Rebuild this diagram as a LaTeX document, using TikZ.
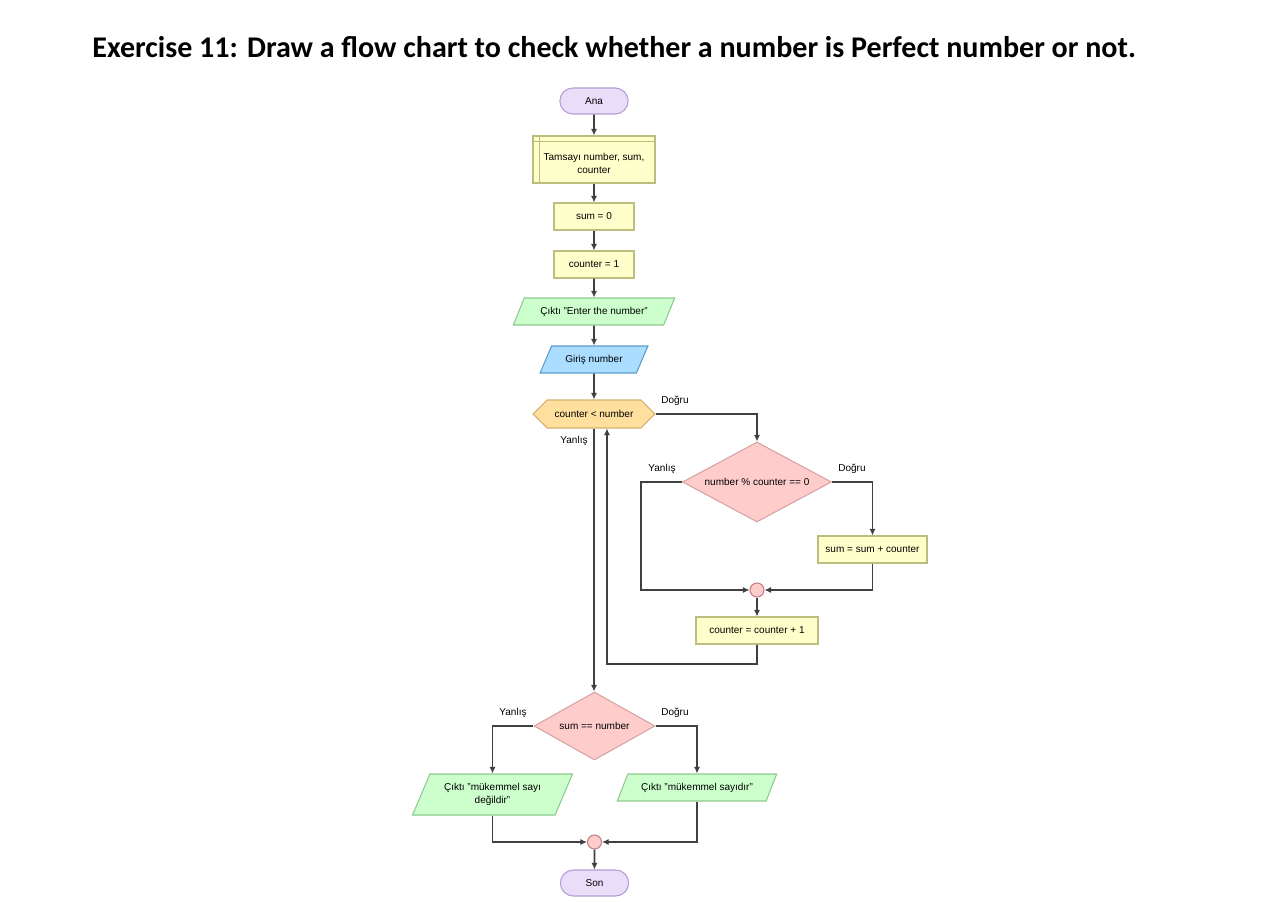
\documentclass[tikz,border=0pt]{standalone}
\usepackage{fontspec}
\setmainfont{Liberation Sans}
\newfontfamily\titlefont{Carlito}
\usepackage{tikz}
\usetikzlibrary{calc}
\usetikzlibrary{arrows.meta}
\usetikzlibrary{shapes}
\usetikzlibrary{shapes.geometric}
\usetikzlibrary{shapes.symbols}
\usetikzlibrary{shapes.misc}
\definecolor{termfill}{HTML}{EADDF9}
\definecolor{termline}{HTML}{B39BD4}
\definecolor{procfill}{HTML}{FFFFCC}
\definecolor{procline}{HTML}{BDBD7E}
\definecolor{outfill}{HTML}{CCFFCC}
\definecolor{outline}{HTML}{8FC98F}
\definecolor{infill}{HTML}{AADDFF}
\definecolor{inline}{HTML}{5C9CCB}
\definecolor{hexfill}{HTML}{FFDF9E}
\definecolor{hexline}{HTML}{D6AE6C}
\definecolor{decfill}{HTML}{FFCCCC}
\definecolor{decline}{HTML}{D6A3A3}
\definecolor{joinline}{HTML}{C07C7C}
\definecolor{flowline}{HTML}{404040}
\tikzset{>={Latex[length=3.8pt,width=3.6pt]}}
\tikzstyle{every node} = [font=\fontsize{5.7}{7.3}\selectfont, text=black]
\tikzstyle{term} = [rounded rectangle, draw=termline, fill=termfill, line width=0.6pt, minimum width=1.6cm, minimum height=0.52cm]
\tikzstyle{proc} = [rectangle, draw=procline, fill=procfill, line width=0.6pt, minimum height=0.54cm, align=center]
\tikzstyle{io} = [trapezium, trapezium left angle=66, trapezium right angle=114, trapezium stretches=true, draw=outline, fill=outfill, line width=0.6pt, minimum height=0.54cm, align=center]
\tikzstyle{dec} = [diamond, draw=decline, fill=decfill, line width=0.6pt, inner sep=0]
\tikzstyle{whilebox} = [signal, signal to=west and east, signal pointer angle=90, draw=hexline, fill=hexfill, line width=0.6pt, minimum width=2.44cm, minimum height=0.56cm]
\tikzstyle{merge} = [circle, draw=joinline, fill=decfill, line width=0.6pt, minimum size=0.28cm, inner sep=0]
\tikzstyle{flow} = [->, draw=flowline, line width=1pt]
\tikzstyle{lbl} = [draw=none, inner sep=0]

\begin{document}
\begin{tikzpicture}[x=0.02cm, y=-0.02cm]
\useasboundingbox [fill=white] (0,0) rectangle (1265,902);
\node [draw=none, anchor=west, inner sep=0, font=\titlefont\bfseries\fontsize{17.1}{20}\selectfont] (T) at (92,47) {Exercise 11: Draw a flow chart to check whether a number is Perfect number or not.};
%% main column
\node [term] (A) at (594,101) {Ana};
\node [proc, inner ysep=0, minimum width=2.44cm, minimum height=0.94cm] (D) at (594,159.5) {\raisebox{0pt}[\dimexpr\height+5.6pt][\depth]{\begin{tabular}{@{}c@{}}Tamsayı number, sum,\\counter\end{tabular}}};
\draw [procline, line width=0.6pt] ([xshift=0.14cm]D.north west) -- ([xshift=0.14cm]D.south west);
\draw [procline, line width=0.6pt] ([yshift=-0.12cm]D.north west) -- ([yshift=-0.12cm]D.north east);
\node [proc, minimum width=1.6cm] (S1) at (594,216.5) {sum = 0};
\node [proc, minimum width=1.6cm] (C1) at (594,264.5) {counter = 1};
\node [io, minimum width=3.24cm] (O1) at (594,311.5) {Çıktı "Enter the number"};
\node [io, draw=inline, fill=infill, minimum width=2.16cm] (I1) at (594,359.5) {Giriş number};
\node [whilebox] (W) at (594,414) {counter < number};
%% loop body
\node [dec, aspect=1.86, minimum width=2.98cm, minimum height=1.6cm] (M) at (757,482) {number \% counter == 0};
\node [proc, minimum width=2.18cm] (S2) at (872.5,549.5) {sum = sum + counter};
\node [merge] (J1) at (757,590) {};
\node [proc, minimum width=2.44cm] (C2) at (757,630.5) {counter = counter + 1};
\coordinate (k1) at (607,664);
\coordinate (k2) at (641,590);
%% result
\node [dec, aspect=1.78, minimum width=2.42cm, minimum height=1.36cm] (P) at (594.5,726) {sum == number};
\node [io, minimum width=3.22cm, minimum height=0.82cm] (N1) at (492.5,794.5) {Çıktı "mükemmel sayı\\değildir"};
\node [io, minimum width=3.2cm] (N2) at (697,787.5) {Çıktı "mükemmel sayıdır"};
\node [merge] (J2) at (594.5,842) {};
\node [term] (E) at (594.5,883) {Son};
%% labels
\node [lbl] (t1) at (675,401) {Doğru};
\node [lbl] (f1) at (574,441) {Yanlış};
\node [lbl] (f2) at (662,469) {Yanlış};
\node [lbl] (t2) at (852,469) {Doğru};
\node [lbl] (f3) at (513,713) {Yanlış};
\node [lbl] (t3) at (675,713) {Doğru};
%% connectors
\draw [flow] (A) to (D);
\draw [flow] (D) to (S1);
\draw [flow] (S1) to (C1);
\draw [flow] (C1) to (O1);
\draw [flow] (O1) to (I1);
\draw [flow] (I1) to (W);
\draw [flow] (W.east) -| (M.north);
\draw [flow] (M.east) -| (S2.north);
\draw [flow] (S2.south) |- (J1.east);
\draw [flow] (M.west) -| (k2) -- (J1.west);
\draw [flow] (J1) to (C2);
\draw [flow] (C2.south) |- (k1) -- (k1 |- W.south);
\draw [flow] (W.south) -- (W.south |- P.north);
\draw [flow] (P.west) -| (N1.north);
\draw [flow] (P.east) -| (N2.north);
\draw [flow] (N1.south) |- (J2.west);
\draw [flow] (N2.south) |- (J2.east);
\draw [flow] (J2) to (E);
\end{tikzpicture}
\end{document}
